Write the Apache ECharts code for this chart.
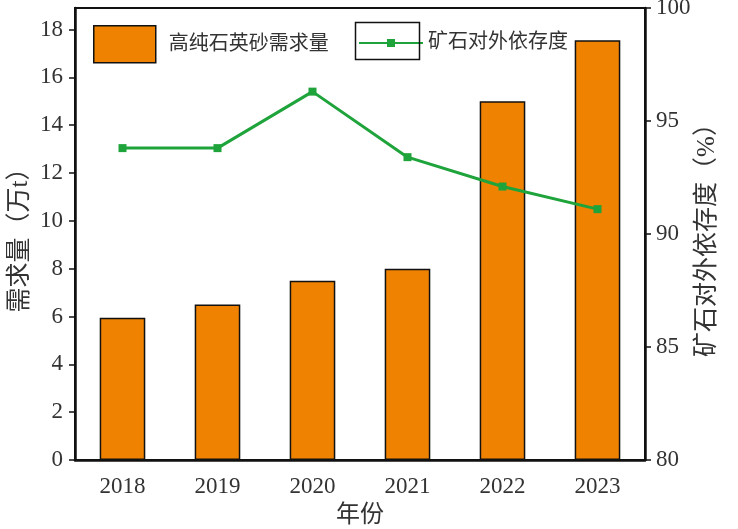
<!DOCTYPE html>
<html>
<head>
<meta charset="utf-8">
<script src="https://cdn.jsdelivr.net/npm/echarts@6/dist/echarts.min.js"></script>
<style>
  html, body { margin: 0; padding: 0; background: #fff; }
  #chart { width: 738px; height: 529px; }
</style>
</head>
<body>
<div id="chart"></div>
<script>
"use strict";
var years = ['2018', '2019', '2020', '2021', '2022', '2023'];
var demand = [5.95, 6.5, 7.5, 8.0, 15.0, 17.55];        // 万t
var dependence = [93.8, 93.8, 96.3, 93.4, 92.1, 91.1];   // %

var FONT = '"Liberation Serif", "Noto Sans CJK SC", serif';
var TXT = '#333';
var GREEN = '#1fa33b';

var myChart = echarts.init(document.getElementById('chart'));
myChart.setOption({
  animation: false,
  textStyle: { fontFamily: FONT, color: TXT },
  grid: {
    left: 75, right: 93, top: 8, bottom: 69,
    outerBoundsMode: 'none', containLabel: false,
    show: true, borderColor: '#111', borderWidth: 2
  },
  legend: [{
    left: 88, top: 20,
    itemWidth: 62, itemHeight: 37,
    icon: 'rect',
    textStyle: { fontSize: 20, color: TXT, fontFamily: FONT, padding: [0, 0, 0, 8] },
    data: [{ name: '高纯石英砂需求量', itemStyle: { borderColor: '#111', borderWidth: 1.5 } }]
  }, {
    left: 353, top: 28,
    itemWidth: 64, itemHeight: 10,
    textStyle: { fontSize: 20, color: TXT, fontFamily: FONT },
    data: [{ name: '矿石对外依存度' }]
  }],
  // frame round the line legend icon
  graphic: [{
    type: 'rect', left: 353, top: 20, z: 100,
    shape: { width: 64, height: 37 },
    style: { fill: 'none', stroke: '#111', lineWidth: 1.5 }
  }],
  xAxis: {
    type: 'category', data: years,
    name: '年份', nameLocation: 'middle', nameGap: 44, nameMoveOverlap: false,
    nameTextStyle: { fontSize: 24, color: TXT },
    axisLine: { lineStyle: { color: '#111', width: 2.5 } },
    axisTick: { show: false },
    axisLabel: { fontSize: 23, color: TXT, margin: 15 }
  },
  yAxis: [{
    type: 'value', min: 0, max: 18.9, interval: 2,
    name: '需求量（万t）', nameLocation: 'middle', nameGap: 42, nameRotate: 90, nameMoveOverlap: false,
    nameTextStyle: { fontSize: 25, color: TXT },
    axisLine: { show: true, lineStyle: { color: '#111', width: 2.5 } },
    axisTick: { show: true, length: 6, lineStyle: { color: '#111', width: 1.5 } },
    axisLabel: { fontSize: 23, color: TXT, margin: 12, showMaxLabel: false },
    splitLine: { show: false }
  }, {
    type: 'value', min: 80, max: 100, interval: 5,
    name: '矿石对外依存度（%）', nameLocation: 'middle', nameGap: 50, nameRotate: 90, nameMoveOverlap: false,
    nameTextStyle: { fontSize: 25, color: TXT },
    axisLine: { show: true, lineStyle: { color: '#111', width: 2.5 } },
    axisTick: { show: true, length: 6, lineStyle: { color: '#111', width: 1.5 } },
    axisLabel: { fontSize: 23, color: TXT, margin: 11 },
    splitLine: { show: false }
  }],
  series: [{
    name: '高纯石英砂需求量', type: 'bar', data: demand,
    barWidth: '48%',
    itemStyle: { color: '#ef8200', borderColor: '#111', borderWidth: 1.5 }
  }, {
    name: '矿石对外依存度', type: 'line', yAxisIndex: 1, data: dependence,
    symbol: 'rect', symbolSize: 8,
    lineStyle: { color: GREEN, width: 3 },
    itemStyle: { color: GREEN }
  }]
});
</script>
</body>
</html>
